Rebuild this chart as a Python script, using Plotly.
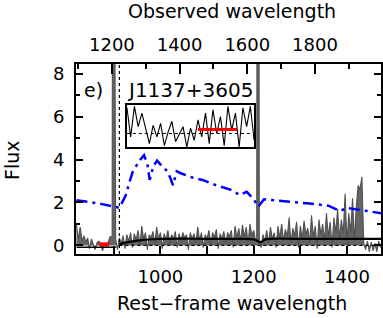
import plotly.graph_objects as go

# ---------------- data ----------------
# gray observed spectrum (rest-frame wavelength, flux)
gray_wave_lyc = list(range(820, 896, 4))
gray_flux_lyc = [0.95, 0.30, 0.85, 0.20, 0.45, 0.15, 0.35, -0.15, 0.30, 0.05,
                 -0.20, 0.12, 0.20, 0.05, -0.25, 0.10, -0.10, 0.15, 0.40]
spike1_wave = [896.5, 897, 902.5]
spike1_flux = [0.4, 9.5, 9.5]
gray_wave_lyb = list(range(904, 1208, 4))
gray_flux_lyb = [0.3, -0.2, 0.35, 0.1, 0.45, -0.15, 0.5, 0.2, 0.6, -0.1,
                 0.55, 0.25, 0.7, 0.0, 0.9, 0.3, 0.6, -0.2, 0.5, 0.35,
                 0.65, 0.1, 0.85, 0.3, 0.6, -0.15, 0.55, 0.25, 0.7, 0.05,
                 0.5, 0.3, 0.65, -0.1, 0.55, 0.2, 0.6, 0.35, 0.5, -0.2,
                 0.6, 0.3, 0.55, 0.1, 0.85, 0.25, 0.6, -0.1, 0.5, 0.3,
                 0.7, 0.05, 0.6, 0.35, 0.75, -0.15, 0.55, 0.3, 0.65, 0.1,
                 0.6, 0.4, 0.7, -0.1, 0.9, 0.35, 0.8, 0.2, 0.95, 0.4,
                 0.85, 0.1, 1.0, 0.45, 0.7, 0.2]
spike2_wave = [1206.5, 1207, 1211.5]
spike2_flux = [0.3, 9.5, 9.5]
gray_wave_red = list(range(1212, 1476, 4))
gray_flux_red = [0.3, -0.1, 0.5, 0.2, 0.7, 0.1, 0.85, 0.3, 0.6, -0.1,
                 0.9, 0.35, 1.0, 0.2, 0.75, 0.4, 1.3, 0.1, 0.8, 0.45,
                 1.1, -0.1, 0.9, 0.3, 1.15, 0.5, 0.8, 0.1, 1.4, 0.4,
                 0.9, -0.15, 1.2, 0.5, 1.0, 0.2, 1.5, 0.4, 1.1, -0.1,
                 1.3, 0.6, 1.7, 0.3, 1.2, 0.5, 2.4, 0.1, 1.5, 0.6,
                 2.2, 0.2, 1.8, 2.8, 2.6, 3.2, 0.1, -0.2, 0.2, -0.3,
                 0.15, -0.25, 0.1, -0.3, 0.2, -0.1]
gray_wave = gray_wave_lyc + spike1_wave + gray_wave_lyb + spike2_wave + gray_wave_red
gray_flux = gray_flux_lyc + spike1_flux + gray_flux_lyb + spike2_flux + gray_flux_red

# blue template
tmpl_wave = [820, 840, 860, 880, 900, 912, 925, 940, 955, 965, 972, 977, 985, 993,
             1003, 1015, 1022, 1027, 1035, 1045, 1070, 1090, 1120, 1150, 1170, 1185,
             1200, 1210, 1222, 1250, 1280, 1320, 1360, 1385, 1400, 1430, 1473]
tmpl_flux = [2.1, 2.05, 1.98, 1.9, 1.8, 1.75, 2.3, 3.4, 3.95, 4.2, 3.8, 3.05, 3.7, 3.95,
             3.7, 3.45, 3.1, 2.8, 3.45, 3.35, 3.15, 3.05, 2.8, 2.6, 2.35, 2.5,
             2.15, 1.8, 2.15, 2.1, 2.05, 1.95, 1.85, 1.6, 1.75, 1.65, 1.5]

# black continuum / model
cont_wave = [912, 930, 960, 1000, 1050, 1100, 1150, 1200, 1215, 1225, 1300, 1400, 1473]
cont_flux = [0.05, 0.15, 0.25, 0.3, 0.32, 0.3, 0.3, 0.28, 0.15, 0.28, 0.3, 0.3, 0.3]
blue_cont_wave = [820, 905]
blue_cont_flux = [-0.08, -0.08]

lyman_limit = 912
zero_wave = [912, 1473]
zero_flux = [0, 0]

# red mean-flux window
red_wave = [869, 890]
red_flux = [0.05, 0.05]

# inset (zoom of the Lyman continuum window)
inset_wave = list(range(831, 901, 2))
inset_flux = [0.38, -0.05, 0.40, 0.10, 0.30, 0.05, -0.15, 0.12, -0.05, 0.15,
              -0.18, 0.02, 0.18, -0.12, 0.00, 0.10, -0.20, 0.08, -0.10, 0.20,
              -0.05, 0.30, -0.15, 0.35, 0.00, 0.25, -0.18, 0.40, 0.05, 0.30,
              -0.20, 0.38, 0.10, 0.40, -0.10]
inset_red_wave = [869, 890]
inset_red_flux = [0.06, 0.06]

x_range = [819, 1473]
obs_range = [1094, 1995]
y_range = [-0.4, 8.45]

FONT = "DejaVu Sans"

fig = go.Figure()

fig.add_trace(go.Scatter(x=gray_wave, y=gray_flux, mode="lines", fill="tozeroy",
                         fillcolor="rgb(100,100,100)",
                         line=dict(color="#505050", width=1.1),
                         showlegend=False))
fig.add_trace(go.Scatter(x=zero_wave, y=zero_flux, mode="lines",
                         line=dict(color="black", width=1.2, dash="dot"), showlegend=False))
fig.add_trace(go.Scatter(x=[lyman_limit, lyman_limit], y=y_range, mode="lines",
                         line=dict(color="black", width=1.2, dash="dot"), showlegend=False))
fig.add_trace(go.Scatter(x=cont_wave, y=cont_flux, mode="lines",
                         line=dict(color="black", width=2.2, shape="spline"), showlegend=False))
fig.add_trace(go.Scatter(x=blue_cont_wave, y=blue_cont_flux, mode="lines",
                         line=dict(color="black", width=1.5), showlegend=False))
fig.add_trace(go.Scatter(x=tmpl_wave, y=tmpl_flux, mode="lines",
                         line=dict(color="#0000ff", width=2.5, dash="11px,5px,3px,5px"),
                         showlegend=False))
fig.add_trace(go.Scatter(x=red_wave, y=red_flux, mode="lines",
                         line=dict(color="#ff0000", width=4), showlegend=False))

# inset
fig.add_trace(go.Scatter(x=inset_wave, y=inset_flux, mode="lines", xaxis="x3", yaxis="y3",
                         line=dict(color="black", width=1.1), showlegend=False))
fig.add_trace(go.Scatter(x=[inset_wave[0], inset_wave[-1]], y=[0, 0], mode="lines",
                         xaxis="x3", yaxis="y3",
                         line=dict(color="black", width=1, dash="dot"), showlegend=False))
fig.add_trace(go.Scatter(x=inset_red_wave, y=inset_red_flux, mode="lines", xaxis="x3", yaxis="y3",
                         line=dict(color="#ff0000", width=3), showlegend=False))
# dummy trace for top axis
fig.add_trace(go.Scatter(x=obs_range, y=[None, None], xaxis="x2", mode="lines", showlegend=False))

axis_font = dict(family=FONT, size=18, color="black")

fig.update_layout(
    width=383, height=318,
    margin=dict(l=76, r=2, t=64, b=64, autoexpand=False),
    paper_bgcolor="white", plot_bgcolor="white",
    font=dict(family=FONT, color="black"),
    hovermode=False,
    xaxis=dict(range=x_range, tickvals=[1000, 1200, 1400], ticks="inside", ticklen=8,
               tickwidth=1.5, tickcolor="black", showline=True, linewidth=2, linecolor="black",
               mirror=False, showgrid=False, zeroline=False, tickfont=axis_font,
               ticklabelstandoff=5, automargin=False,
               minor=dict(tickvals=[900, 1100, 1300], ticks="inside", ticklen=8,
                          tickwidth=1.5, tickcolor="black")),
    xaxis2=dict(range=obs_range, overlaying="x", side="top", anchor="y",
                tickvals=[1200, 1400, 1600, 1800], ticks="inside", ticklen=10, tickwidth=1.5,
                tickcolor="black", showline=True, linewidth=2, linecolor="black",
                showgrid=False, zeroline=False, tickfont=axis_font, ticklabelstandoff=4,
                automargin=False,
                minor=dict(tickvals=[1100, 1300, 1500, 1700, 1900], ticks="inside", ticklen=5,
                           tickwidth=1.5, tickcolor="black")),
    yaxis=dict(range=y_range, tickvals=[0, 2, 4, 6, 8], ticks="inside", ticklen=7,
               tickwidth=1.5, tickcolor="black", showline=True, linewidth=2, linecolor="black",
               mirror="ticks", showgrid=False, zeroline=False, tickfont=axis_font,
               ticklabelstandoff=6, automargin=False,
               minor=dict(tickvals=[1, 3, 5, 7], ticks="inside", ticklen=4,
                          tickwidth=1.5, tickcolor="black")),
    xaxis3=dict(domain=[0.167, 0.584], anchor="y3", range=[831, 899], showline=True,
                linewidth=1.5, linecolor="black", mirror=True, showticklabels=False,
                ticks="", showgrid=False, zeroline=False, automargin=False),
    yaxis3=dict(domain=[0.563, 0.784], anchor="x3", range=[-0.2, 0.42], showline=True,
                linewidth=1.5, linecolor="black", mirror=True, showticklabels=False,
                ticks="", showgrid=False, zeroline=False, automargin=False),
    annotations=[
        dict(text="Rest\u2212frame wavelength", xref="paper", yref="paper", x=0.51, y=-0.258,
             xanchor="center", yanchor="middle", showarrow=False,
             font=dict(family=FONT, size=19, color="black")),
        dict(text="Observed wavelength", xref="paper", yref="paper", x=0.51, y=1.28,
             xanchor="center", yanchor="middle", showarrow=False,
             font=dict(family=FONT, size=19, color="black")),
        dict(text="Flux", xref="paper", yref="paper", x=-0.21, y=0.495, textangle=-90,
             xanchor="center", yanchor="middle", showarrow=False,
             font=dict(family=FONT, size=19, color="black")),
        dict(text="e)", xref="paper", yref="paper", x=0.056, y=0.863,
             xanchor="center", yanchor="middle", showarrow=False,
             font=dict(family=FONT, size=19, color="black")),
        dict(text="J1137+3605", xref="paper", yref="paper", x=0.161, y=0.863,
             xanchor="left", yanchor="middle", showarrow=False,
             font=dict(family=FONT, size=20, color="black")),
    ],
)

fig.write_html("out.html", config={"displayModeBar": False},
               post_script="document.body.style.margin='0';document.body.style.overflow='hidden';")
